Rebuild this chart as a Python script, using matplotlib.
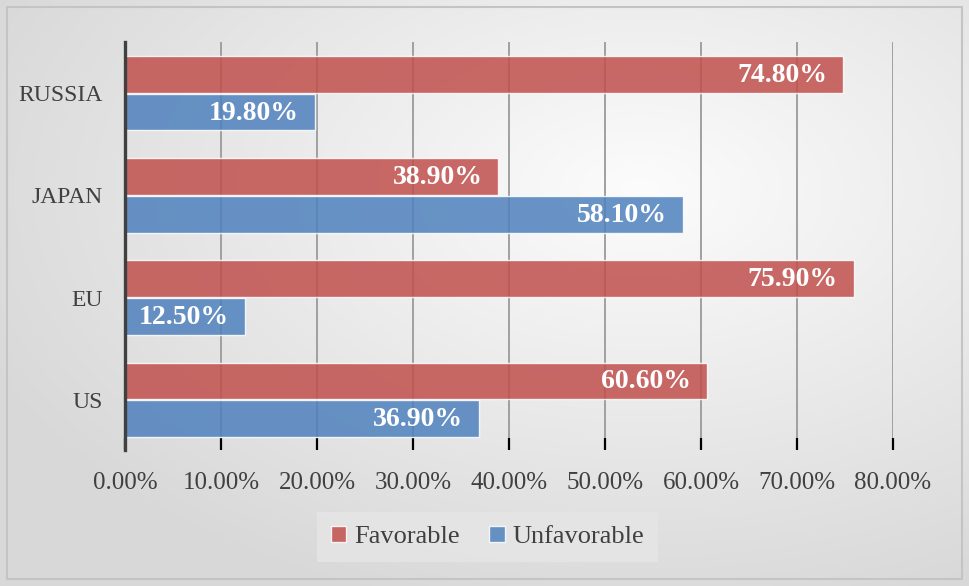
import matplotlib.pyplot as plt
import numpy as np
from matplotlib.patches import Rectangle
from matplotlib.ticker import FuncFormatter

# Survey shares per region (fractions)
regions = ["US", "EU", "JAPAN", "RUSSIA"]
favorable = [0.606, 0.759, 0.389, 0.748]
unfavorable = [0.369, 0.125, 0.581, 0.198]
series_labels = ["Favorable", "Unfavorable"]

RED = "#C0504D"
BLUE = "#4F81BD"
FONT = "Liberation Serif"

plt.rcParams["font.family"] = FONT

W, H = 969, 586
fig = plt.figure(figsize=(W / 100, H / 100), dpi=100)

# soft radial gradient behind everything
bg = fig.add_axes([0, 0, 1, 1], zorder=-10)
yy, xx = np.mgrid[0:H, 0:W]
dist = np.hypot((xx - 640) / W, (yy - 190) / H)
shade = 252 - 36 * np.clip(dist / 0.75, 0, 1)
bg.imshow(np.dstack([shade] * 3).astype(np.uint8), extent=[0, W, H, 0], aspect="auto")
bg.set_xlim(0, W)
bg.set_ylim(H, 0)
bg.axis("off")
bg.add_patch(Rectangle((7, 7), W - 14, H - 14, fill=False, ec="#C4C4C4", lw=1.5))

ax = fig.add_axes([125 / W, 1 - 450 / H, 768 / W, 408 / H])
ax.patch.set_visible(False)

y = np.arange(len(regions))
h = 0.36
off = 0.185
bars_fav = ax.barh(y + off, favorable, height=h, color=RED, alpha=0.85,
                   edgecolor=(1, 1, 1, 0.55), linewidth=1, label=series_labels[0], zorder=3)
bars_unf = ax.barh(y - off, unfavorable, height=h, color=BLUE, alpha=0.85,
                   edgecolor=(1, 1, 1, 0.55), linewidth=1, label=series_labels[1], zorder=3)

for bars, vals in [(bars_fav, favorable), (bars_unf, unfavorable)]:
    for b, v in zip(bars, vals):
        ax.annotate(f"{v * 100:.2f}%", (v, b.get_y() + b.get_height() / 2),
                    xytext=(-16, -1), textcoords="offset pixels",
                    ha="right", va="center", color="white",
                    fontsize=20, fontweight="bold", zorder=4)

ax.set_xlim(0, 0.8)
ax.set_ylim(-0.49, 3.5)
ax.set_xticks(np.arange(0, 0.81, 0.1))
ax.xaxis.set_major_formatter(FuncFormatter(lambda v, _: f"{v * 100:.2f}%"))
ax.set_yticks(y)
ax.set_yticklabels(regions)

ax.grid(axis="x", color="#A0A0A0", linewidth=1.4, zorder=1)
ax.set_axisbelow(True)
ax.tick_params(axis="x", direction="in", length=9, width=1.6, color="black",
               pad=16, labelsize=18, labelcolor="#404040")
ax.tick_params(axis="y", length=0, pad=16, labelsize=17, labelcolor="#404040")

for side in ["top", "right", "bottom"]:
    ax.spines[side].set_visible(False)
ax.spines["left"].set_color("#404040")
ax.spines["left"].set_linewidth(2.4)
ax.spines["left"].set_zorder(5)

leg = fig.legend(loc="center", bbox_to_anchor=(487.5 / W, 1 - 537 / H), ncol=2,
                 frameon=True, fontsize=19, handlelength=0.6, handleheight=0.6,
                 handletextpad=0.3, columnspacing=1.1, borderpad=0.5)
frame = leg.get_frame()
frame.set_facecolor("#E6E6E6")
frame.set_edgecolor("none")
frame.set_alpha(0.8)
frame.set_boxstyle("square", pad=0)
for t in leg.get_texts():
    t.set_color("#404040")

fig.savefig("out.png", dpi=100)
